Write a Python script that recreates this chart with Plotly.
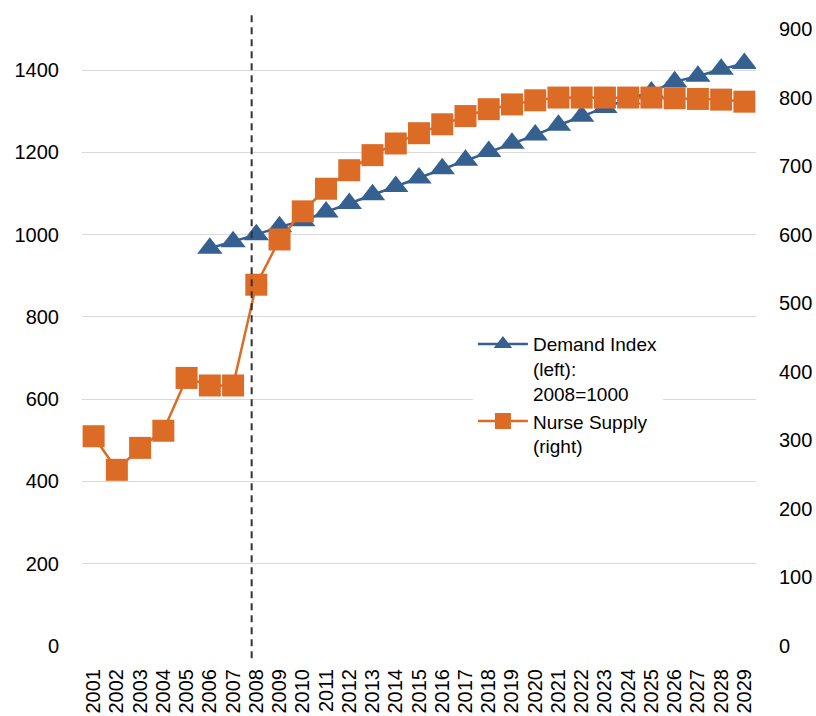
import plotly.graph_objects as go

# Years on the category axis
years = list(range(2001, 2030))

# Demand index, left axis (2008 = 1000); no data before 2006
demand_index = [None, None, None, None, None,
                967, 983, 1000, 1019, 1034, 1055, 1076, 1097, 1117, 1138,
                1160, 1181, 1202, 1222, 1242, 1266, 1288, 1309, 1330, 1347,
                1372, 1385, 1402, 1416]

# Nurse supply, right axis
nurse_supply = [306, 257, 289, 314, 391, 380, 380, 527, 593, 634,
                667, 694, 716, 733, 748, 761, 773, 783, 790, 796,
                800, 800, 800, 800, 800, 799, 798, 797, 794]

left_ticks = [0, 200, 400, 600, 800, 1000, 1200, 1400]
right_ticks = [0, 100, 200, 300, 400, 500, 600, 700, 800, 900]

BLUE = "#356090"
ORANGE = "#dc6b26"
FONT = "Liberation Sans, Arial, sans-serif"

fig = go.Figure()

fig.add_trace(go.Scatter(
    x=years, y=demand_index,
    name="Demand Index<br>(left):<br>2008=1000",
    mode="lines+markers",
    line=dict(color=BLUE, width=2.5),
    marker=dict(symbol="triangle-up", size=22, color=BLUE),
    yaxis="y",
))

fig.add_trace(go.Scatter(
    x=years, y=nurse_supply,
    name="Nurse Supply<br>(right)",
    mode="lines+markers",
    line=dict(color=ORANGE, width=2.5),
    marker=dict(symbol="square", size=22, color=ORANGE),
    yaxis="y2",
))

# Dashed marker at the 2008 base year
fig.add_shape(
    type="line", xref="x", yref="paper",
    x0=2007.8, x1=2007.8, y0=-0.02, y1=1.028,
    line=dict(color="#333333", width=2, dash="7px,5px"),
)

fig.update_layout(
    width=816, height=716,
    margin=dict(l=82, r=60, t=29, b=70, autoexpand=False),
    paper_bgcolor="white",
    plot_bgcolor="white",
    font=dict(family=FONT, size=20, color="#000000"),
    xaxis=dict(
        range=[2000.5, 2029.5],
        tickvals=years,
        ticktext=[str(y) for y in years],
        tickangle=-90,
        showgrid=False,
        zeroline=False,
        showline=False,
        ticks="",
        automargin=False,
        ticklabelstandoff=18,
        tickfont=dict(size=20),
    ),
    yaxis=dict(
        range=[0, 1500],
        tickvals=left_ticks,
        showgrid=True,
        gridcolor="#d9d9d9",
        gridwidth=1.2,
        zeroline=False,
        showline=False,
        ticks="",
        automargin=False,
        ticklabelstandoff=22,
        tickfont=dict(size=20),
    ),
    yaxis2=dict(
        range=[0, 900],
        tickvals=right_ticks,
        overlaying="y",
        side="right",
        showgrid=False,
        zeroline=False,
        showline=False,
        ticks="",
        automargin=False,
        ticklabelstandoff=22,
        tickfont=dict(size=20),
    ),
    legend=dict(
        x=0.58, y=0.52,
        xanchor="left", yanchor="top",
        bgcolor="rgba(255,255,255,1)",
        font=dict(size=19),
        valign="top",
        itemwidth=50,
        tracegroupgap=0,
    ),
    showlegend=True,
)

fig.write_html("out.html")
